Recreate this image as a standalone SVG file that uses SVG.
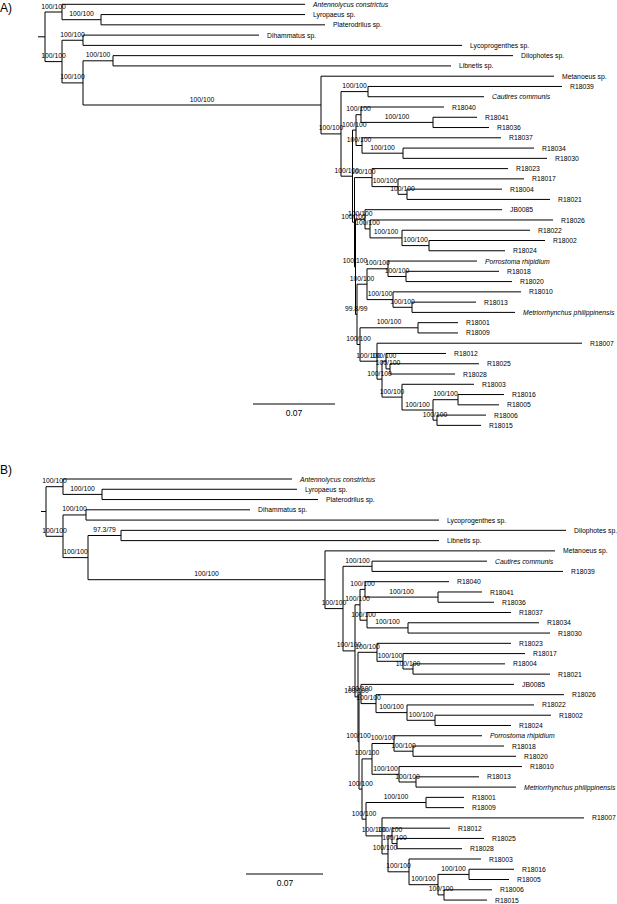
<svg xmlns="http://www.w3.org/2000/svg" width="617" height="904" viewBox="0 0 617 904">
<style>
.br{stroke:#000;stroke-width:1;fill:none}
text{font-family:"Liberation Sans",Arial,sans-serif;fill:#000}
.t{font-size:6.8px}
.i{font-style:italic}
.s{font-size:6.8px;text-anchor:middle}
.p{font-size:12px}
.sc{font-size:8.5px;text-anchor:middle}
</style>
<rect width="617" height="904" fill="#fff"/>
<g id="panel-A">
<text class="p" x="0" y="12">A)</text>
<g id="A-connectors">
<path class="br" d="M38 36.8H45M45 12V61.6M45 12H62M45 61.6H62
M62 4.3V19.7M62 4.3H305M62 19.7H101
M101 14.57V24.84M101 14.57H305M101 24.84H325
M62 40.25V82.9M62 40.25H83M62 82.9H83
M83 35.11V45.38M83 35.11H259M83 45.38H462
M83 60.8V105M83 60.8H113M83 105H321
M113 55.65V65.92M113 55.65H513M113 65.92H451
M321 76.19V133.9M321 76.19H554M321 133.9H341
M341 91.6V176.2M341 91.6H368M341 176.2H352.5
M368 86.46V96.73M368 86.46H562M368 96.73H484
M352.5 130.1V222.2M352.5 130.1H356M352.5 222.2H354.5
M356 114.7V145.5M356 114.7H361M356 145.5H362
M361 107V122.4M361 107H444M361 122.4H433
M433 117.27V127.54M433 117.27H477M433 127.54H489
M362 137.81V153.2M362 137.81H501M362 153.2H403
M403 148.08V158.35M403 148.08H534M403 158.35H547
M354.5 177.6V266.9M354.5 177.6H372M354.5 266.9H355.5
M372 168.62V186.6M372 168.62H508M372 186.6H398
M398 178.89V194.3M398 178.89H524M398 194.3H407
M407 189.16V199.43M407 189.16H502M407 199.43H550
M355.5 219.3V314.4M355.5 219.3H365M355.5 314.4H357
M365 209.7V228.9M365 209.7H502M365 228.9H370
M370 219.97V237.9M370 219.97H553M370 237.9H402
M402 230.24V245.6M402 230.24H530M402 245.6H429
M429 240.51V250.78M429 240.51H545M429 250.78H505
M357 284.2V344.5M357 284.2H367M357 344.5H360
M367 268.8V299.6M367 268.8H388M367 299.6H393
M388 261.05V276.5M388 261.05H477M388 276.5H406
M406 271.32V281.59M406 271.32H499M406 281.59H512
M393 291.86V307.3M393 291.86H521M393 307.3H412
M412 302.13V312.4M412 302.13H476M412 312.4H515
M360 327.8V361.2M360 327.8H418M360 361.2H377
M418 322.67V332.94M418 322.67H458M418 332.94H458
M377 343.21V379.2M377 343.21H582M377 379.2H382
M382 361.2V397.1M382 361.2H386M382 397.1H402
M386 353.48V368.9M386 353.48H446M386 368.9H390
M390 363.75V374.02M390 363.75H479M390 374.02H455
M402 384.29V410M402 384.29H474M402 410H433
M433 399.7V420.2M433 399.7H458M433 420.2H437
M458 394.56V404.83M458 394.56H504M458 404.83H499
M437 415.1V425.37M437 415.1H486M437 425.37H481"/>
</g>
<g id="A-support">
<text class="s" x="53.5" y="8.5">100/100</text>
<text class="s" x="81.5" y="16.2">100/100</text>
<text class="s" x="53.5" y="58.1">100/100</text>
<text class="s" x="72.5" y="36.75">100/100</text>
<text class="s" x="72.5" y="79.4">100/100</text>
<text class="s" x="98" y="57.3">100/100</text>
<text class="s" x="202" y="101.5">100/100</text>
<text class="s" x="331" y="130.4">100/100</text>
<text class="s" x="354.5" y="88.1">100/100</text>
<text class="s" x="346.75" y="172.7">100/100</text>
<text class="s" x="354.25" y="126.6">100/100</text>
<text class="s" x="358.5" y="111.2">100/100</text>
<text class="s" x="397" y="118.9">100/100</text>
<text class="s" x="359" y="142">100/100</text>
<text class="s" x="382.5" y="149.7">100/100</text>
<text class="s" x="353.5" y="218.7">100/100</text>
<text class="s" x="363.25" y="174.1">100/100</text>
<text class="s" x="385" y="183.1">100/100</text>
<text class="s" x="402.5" y="190.8">100/100</text>
<text class="s" x="355" y="263.4">100/100</text>
<text class="s" x="360.25" y="215.8">100/100</text>
<text class="s" x="367.5" y="225.4">100/100</text>
<text class="s" x="386" y="234.4">100/100</text>
<text class="s" x="415.5" y="242.1">100/100</text>
<text class="s" x="356.25" y="310.9">99.8/99</text>
<text class="s" x="362" y="280.7">100/100</text>
<text class="s" x="377.5" y="265.3">100/100</text>
<text class="s" x="397" y="273">100/100</text>
<text class="s" x="380" y="296.1">100/100</text>
<text class="s" x="402.5" y="303.8">100/100</text>
<text class="s" x="358.5" y="341">100/100</text>
<text class="s" x="389" y="324.3">100/100</text>
<text class="s" x="368.5" y="357.7">100/100</text>
<text class="s" x="379.5" y="375.7">100/100</text>
<text class="s" x="384" y="357.7">100/100</text>
<text class="s" x="388" y="365.4">100/100</text>
<text class="s" x="392" y="393.6">100/100</text>
<text class="s" x="417.5" y="406.5">100/100</text>
<text class="s" x="445.5" y="396.2">100/100</text>
<text class="s" x="435" y="416.7">100/100</text>
</g>
<g id="A-tips">
<g id="A-Antennolycus"><text class="t i" x="313" y="6.8">Antennolycus constrictus</text></g>
<g id="A-Lyropaeus"><text class="t" x="313" y="17.1">Lyropaeus sp.</text></g>
<g id="A-Platerodrilus"><text class="t" x="333" y="27.3">Platerodrilus sp.</text></g>
<g id="A-Dihammatus"><text class="t" x="267" y="37.6">Dihammatus sp.</text></g>
<g id="A-Lycoprogenthes"><text class="t" x="470" y="47.9">Lycoprogenthes sp.</text></g>
<g id="A-Dilophotes"><text class="t" x="521" y="58.2">Dilophotes sp.</text></g>
<g id="A-Libnetis"><text class="t" x="459" y="68.4">Libnetis sp.</text></g>
<g id="A-Metanoeus"><text class="t" x="562" y="78.7">Metanoeus sp.</text></g>
<g id="A-R18039"><text class="t" x="570" y="89">R18039</text></g>
<g id="A-Cautires"><text class="t i" x="492" y="99.2">Cautires communis</text></g>
<g id="A-R18040"><text class="t" x="452" y="109.5">R18040</text></g>
<g id="A-R18041"><text class="t" x="485" y="119.8">R18041</text></g>
<g id="A-R18036"><text class="t" x="497" y="130">R18036</text></g>
<g id="A-R18037"><text class="t" x="509" y="140.3">R18037</text></g>
<g id="A-R18034"><text class="t" x="542" y="150.6">R18034</text></g>
<g id="A-R18030"><text class="t" x="555" y="160.9">R18030</text></g>
<g id="A-R18023"><text class="t" x="516" y="171.1">R18023</text></g>
<g id="A-R18017"><text class="t" x="532" y="181.4">R18017</text></g>
<g id="A-R18004"><text class="t" x="510" y="191.7">R18004</text></g>
<g id="A-R18021"><text class="t" x="558" y="201.9">R18021</text></g>
<g id="A-JB0085"><text class="t" x="510" y="212.2">JB0085</text></g>
<g id="A-R18026"><text class="t" x="561" y="222.5">R18026</text></g>
<g id="A-R18022"><text class="t" x="538" y="232.7">R18022</text></g>
<g id="A-R18002"><text class="t" x="553" y="243">R18002</text></g>
<g id="A-R18024"><text class="t" x="513" y="253.3">R18024</text></g>
<g id="A-Porrostoma"><text class="t i" x="485" y="263.6">Porrostoma rhipidium</text></g>
<g id="A-R18018"><text class="t" x="507" y="273.8">R18018</text></g>
<g id="A-R18020"><text class="t" x="520" y="284.1">R18020</text></g>
<g id="A-R18010"><text class="t" x="529" y="294.4">R18010</text></g>
<g id="A-R18013"><text class="t" x="484" y="304.6">R18013</text></g>
<g id="A-Metriorrhynchus"><text class="t i" x="523" y="314.9">Metriorrhynchus philippinensis</text></g>
<g id="A-R18001"><text class="t" x="466" y="325.2">R18001</text></g>
<g id="A-R18009"><text class="t" x="466" y="335.4">R18009</text></g>
<g id="A-R18007"><text class="t" x="590" y="345.7">R18007</text></g>
<g id="A-R18012"><text class="t" x="454" y="356">R18012</text></g>
<g id="A-R18025"><text class="t" x="487" y="366.3">R18025</text></g>
<g id="A-R18028"><text class="t" x="463" y="376.5">R18028</text></g>
<g id="A-R18003"><text class="t" x="482" y="386.8">R18003</text></g>
<g id="A-R18016"><text class="t" x="512" y="397.1">R18016</text></g>
<g id="A-R18005"><text class="t" x="507" y="407.3">R18005</text></g>
<g id="A-R18006"><text class="t" x="494" y="417.6">R18006</text></g>
<g id="A-R18015"><text class="t" x="489" y="427.9">R18015</text></g>
</g>
<g id="A-scale">
<path class="br" d="M253 404H335"/>
<text class="sc" x="294" y="416">0.07</text>
</g>
</g>
<g id="panel-B">
<text class="p" x="0" y="474">B)</text>
<g id="B-connectors">
<path class="br" d="M41 511.5H46M46 486.7V536.3M46 486.7H63M46 536.3H63
M63 479V494.4M63 479H292M63 494.4H102
M102 489.27V499.54M102 489.27H297M102 499.54H318
M63 514.95V557.6M63 514.95H86M63 557.6H88
M86 509.81V520.08M86 509.81H250M86 520.08H439
M88 535.5V579.7M88 535.5H121M88 579.7H325
M121 530.35V540.62M121 530.35H566M121 540.62H439
M325 550.89V608.6M325 550.89H555M325 608.6H343
M343 566.3V650.9M343 566.3H372M343 650.9H355
M372 561.16V571.43M372 561.16H487M372 571.43H563
M355 604.8V696.9M355 604.8H360M355 696.9H358
M360 589.4V620.2M360 589.4H365M360 620.2H367
M365 581.7V597.1M365 581.7H449M365 597.1H438
M438 591.97V602.24M438 591.97H482M438 602.24H494
M367 612.51V627.9M367 612.51H511M367 627.9H408
M408 622.78V633.05M408 622.78H539M408 633.05H550
M358 652.3V741.6M358 652.3H377M358 741.6H359
M377 643.32V661.3M377 643.32H511M377 661.3H403
M403 653.59V669M403 653.59H525M403 669H413
M413 663.86V674.13M413 663.86H505M413 674.13H550
M359 694V789.1M359 694H361M359 789.1H362
M361 684.4V703.6M361 684.4H514M361 703.6H376
M376 694.67V712.6M376 694.67H564M376 712.6H407
M407 704.94V720.3M407 704.94H534M407 720.3H435
M435 715.21V725.48M435 715.21H551M435 725.48H511
M362 758.9V819.2M362 758.9H372M362 819.2H366
M372 743.5V774.3M372 743.5H394M372 774.3H399
M394 735.75V751.2M394 735.75H482M394 751.2H413
M413 746.02V756.29M413 746.02H504M413 756.29H516
M399 766.56V782M399 766.56H522M399 782H416
M416 776.83V787.1M416 776.83H479M416 787.1H516
M366 802.5V835.9M366 802.5H426M366 835.9H382
M426 797.37V807.64M426 797.37H464M426 807.64H464
M382 817.91V853.9M382 817.91H584M382 853.9H388
M388 835.9V871.8M388 835.9H392M388 871.8H409
M392 828.18V843.6M392 828.18H450M392 843.6H397
M397 838.45V848.72M397 838.45H484M397 848.72H462
M409 858.99V884.7M409 858.99H481M409 884.7H438
M438 874.4V894.9M438 874.4H469M438 894.9H444
M469 869.26V879.53M469 869.26H514M469 879.53H509
M444 889.8V900.07M444 889.8H492M444 900.07H487"/>
</g>
<g id="B-support">
<text class="s" x="54.5" y="483.2">100/100</text>
<text class="s" x="82.5" y="490.9">100/100</text>
<text class="s" x="54.5" y="532.8">100/100</text>
<text class="s" x="74.5" y="511.45">100/100</text>
<text class="s" x="75.5" y="554.1">100/100</text>
<text class="s" x="104.5" y="532">97.3/79</text>
<text class="s" x="206.5" y="576.2">100/100</text>
<text class="s" x="334" y="605.1">100/100</text>
<text class="s" x="357.5" y="562.8">100/100</text>
<text class="s" x="349" y="647.4">100/100</text>
<text class="s" x="357.5" y="601.3">100/100</text>
<text class="s" x="362.5" y="585.9">100/100</text>
<text class="s" x="401.5" y="593.6">100/100</text>
<text class="s" x="363.5" y="616.7">100/100</text>
<text class="s" x="387.5" y="624.4">100/100</text>
<text class="s" x="356.5" y="693.4">100/100</text>
<text class="s" x="367.5" y="648.8">100/100</text>
<text class="s" x="390" y="657.8">100/100</text>
<text class="s" x="408" y="665.5">100/100</text>
<text class="s" x="358.5" y="738.1">100/100</text>
<text class="s" x="360" y="690.5">100/100</text>
<text class="s" x="368.5" y="700.1">100/100</text>
<text class="s" x="391.5" y="709.1">100/100</text>
<text class="s" x="421" y="716.8">100/100</text>
<text class="s" x="360.5" y="785.6">100/100</text>
<text class="s" x="367" y="755.4">100/100</text>
<text class="s" x="383" y="740">100/100</text>
<text class="s" x="403.5" y="747.7">100/100</text>
<text class="s" x="385.5" y="770.8">100/100</text>
<text class="s" x="407.5" y="778.5">100/100</text>
<text class="s" x="364" y="815.7">100/100</text>
<text class="s" x="396" y="799">100/100</text>
<text class="s" x="374" y="832.4">100/100</text>
<text class="s" x="385" y="850.4">100/100</text>
<text class="s" x="390" y="832.4">100/100</text>
<text class="s" x="394.5" y="840.1">100/100</text>
<text class="s" x="398.5" y="868.3">100/100</text>
<text class="s" x="423.5" y="881.2">100/100</text>
<text class="s" x="453.5" y="870.9">100/100</text>
<text class="s" x="441" y="891.4">100/100</text>
</g>
<g id="B-tips">
<g id="B-Antennolycus"><text class="t i" x="300" y="481.5">Antennolycus constrictus</text></g>
<g id="B-Lyropaeus"><text class="t" x="305" y="491.8">Lyropaeus sp.</text></g>
<g id="B-Platerodrilus"><text class="t" x="326" y="502">Platerodrilus sp.</text></g>
<g id="B-Dihammatus"><text class="t" x="258" y="512.3">Dihammatus sp.</text></g>
<g id="B-Lycoprogenthes"><text class="t" x="447" y="522.6">Lycoprogenthes sp.</text></g>
<g id="B-Dilophotes"><text class="t" x="574" y="532.9">Dilophotes sp.</text></g>
<g id="B-Libnetis"><text class="t" x="447" y="543.1">Libnetis sp.</text></g>
<g id="B-Metanoeus"><text class="t" x="563" y="553.4">Metanoeus sp.</text></g>
<g id="B-Cautires"><text class="t i" x="495" y="563.7">Cautires communis</text></g>
<g id="B-R18039"><text class="t" x="571" y="573.9">R18039</text></g>
<g id="B-R18040"><text class="t" x="457" y="584.2">R18040</text></g>
<g id="B-R18041"><text class="t" x="490" y="594.5">R18041</text></g>
<g id="B-R18036"><text class="t" x="502" y="604.7">R18036</text></g>
<g id="B-R18037"><text class="t" x="519" y="615">R18037</text></g>
<g id="B-R18034"><text class="t" x="547" y="625.3">R18034</text></g>
<g id="B-R18030"><text class="t" x="558" y="635.6">R18030</text></g>
<g id="B-R18023"><text class="t" x="519" y="645.8">R18023</text></g>
<g id="B-R18017"><text class="t" x="533" y="656.1">R18017</text></g>
<g id="B-R18004"><text class="t" x="513" y="666.4">R18004</text></g>
<g id="B-R18021"><text class="t" x="558" y="676.6">R18021</text></g>
<g id="B-JB0085"><text class="t" x="522" y="686.9">JB0085</text></g>
<g id="B-R18026"><text class="t" x="572" y="697.2">R18026</text></g>
<g id="B-R18022"><text class="t" x="542" y="707.4">R18022</text></g>
<g id="B-R18002"><text class="t" x="559" y="717.7">R18002</text></g>
<g id="B-R18024"><text class="t" x="519" y="728">R18024</text></g>
<g id="B-Porrostoma"><text class="t i" x="490" y="738.3">Porrostoma rhipidium</text></g>
<g id="B-R18018"><text class="t" x="512" y="748.5">R18018</text></g>
<g id="B-R18020"><text class="t" x="524" y="758.8">R18020</text></g>
<g id="B-R18010"><text class="t" x="530" y="769.1">R18010</text></g>
<g id="B-R18013"><text class="t" x="487" y="779.3">R18013</text></g>
<g id="B-Metriorrhynchus"><text class="t i" x="524" y="789.6">Metriorrhynchus philippinensis</text></g>
<g id="B-R18001"><text class="t" x="472" y="799.9">R18001</text></g>
<g id="B-R18009"><text class="t" x="472" y="810.1">R18009</text></g>
<g id="B-R18007"><text class="t" x="592" y="820.4">R18007</text></g>
<g id="B-R18012"><text class="t" x="458" y="830.7">R18012</text></g>
<g id="B-R18025"><text class="t" x="492" y="841">R18025</text></g>
<g id="B-R18028"><text class="t" x="470" y="851.2">R18028</text></g>
<g id="B-R18003"><text class="t" x="489" y="861.5">R18003</text></g>
<g id="B-R18016"><text class="t" x="522" y="871.8">R18016</text></g>
<g id="B-R18005"><text class="t" x="517" y="882">R18005</text></g>
<g id="B-R18006"><text class="t" x="500" y="892.3">R18006</text></g>
<g id="B-R18015"><text class="t" x="495" y="902.6">R18015</text></g>
</g>
<g id="B-scale">
<path class="br" d="M246 874H323"/>
<text class="sc" x="285" y="886">0.07</text>
</g>
</g>
</svg>
